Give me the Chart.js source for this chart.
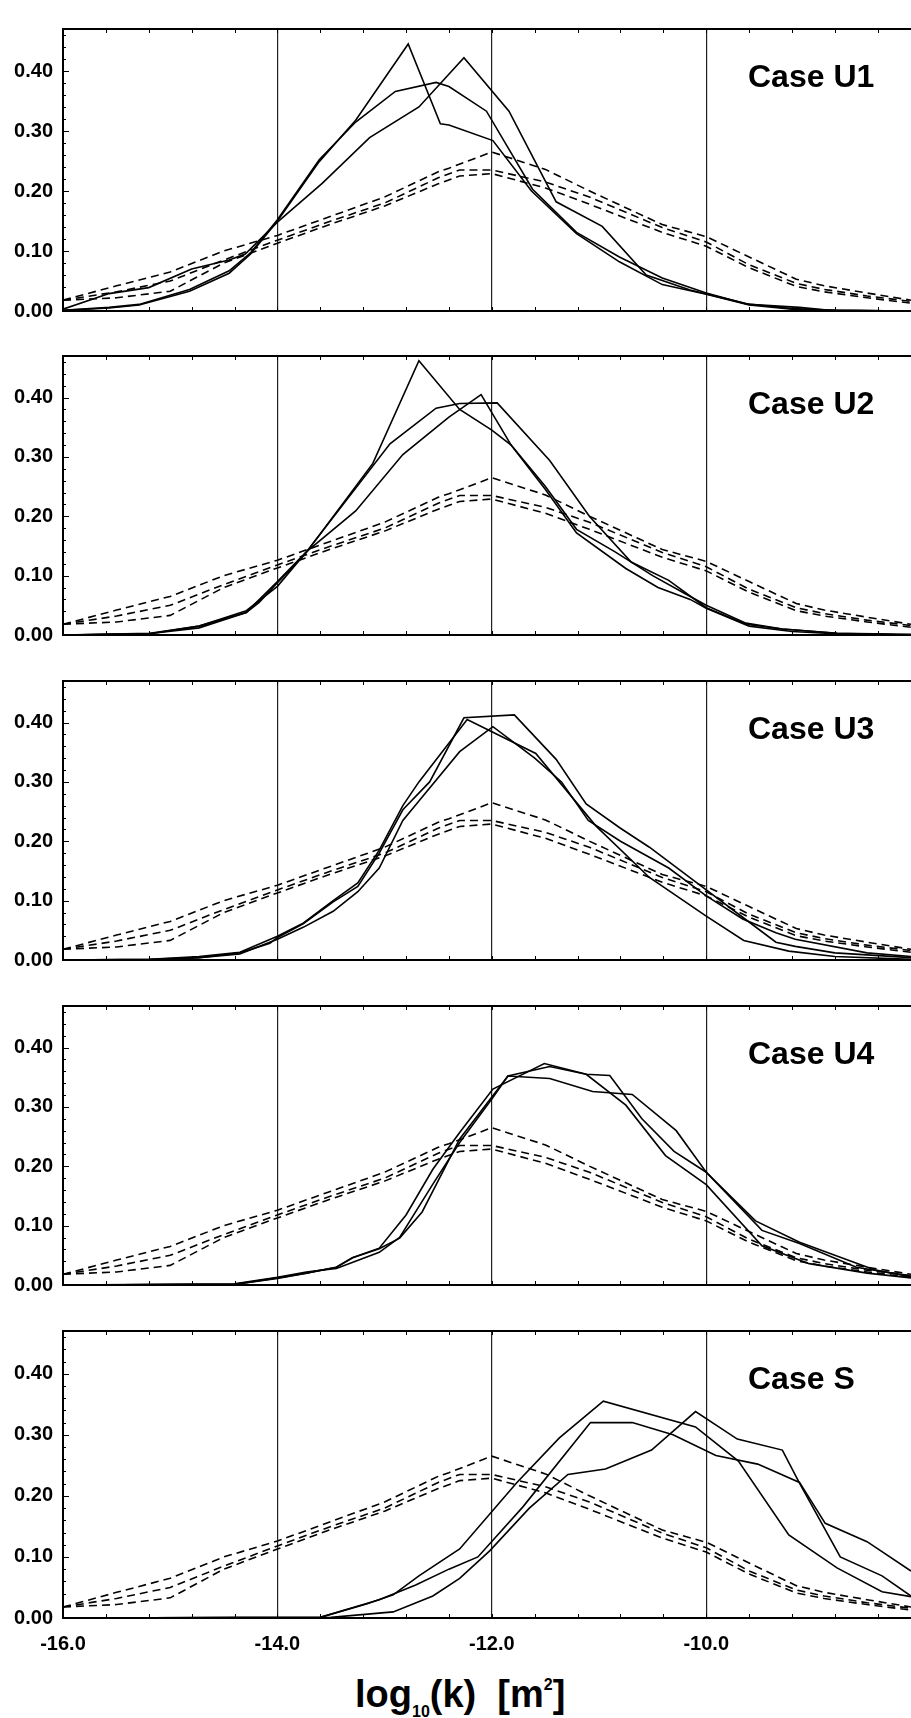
<!DOCTYPE html>
<html>
<head>
<meta charset="utf-8">
<title>Permeability distributions</title>
<script src="https://cdn.jsdelivr.net/npm/chart.js@4.4.1/dist/chart.umd.min.js"></script>
<style>
  html, body { margin: 0; padding: 0; background: #fff; }
  #page { position: relative; width: 911px; height: 1718px; overflow: hidden; background: #fff; }
  #page canvas { position: absolute; left: 0; }
  #xtitle {
    position: absolute; left: 355px; top: 1675px;
    font: bold 38px "Liberation Sans", Arial, Helvetica, sans-serif;
    line-height: 38px; color: #000; white-space: pre;
  }
  #xtitle .sub { font-size: 16px; line-height: 1; position: relative; top: 10px; }
  #xtitle .sup { font-size: 16px; line-height: 1; position: relative; top: -17px; }
</style>
</head>
<body>
<div id="page">
  <div id="xtitle">log<span class="sub">10</span>(k)  [m<span class="sup">2</span>]</div>
</div>
<script>
// ---- axes ----
const xMin = -16, xMax = -8.09, yMax = 0.47;
const xTickValues = [-16, -14, -12, -10];
const yTickValues = [0.0, 0.1, 0.2, 0.3, 0.4];
const caseLabels = ['Case U1', 'Case U2', 'Case U3', 'Case U4', 'Case S'];

// ---- reference (prior) distributions, dashed, common to every case ----
const priorA = [[-16,0.018],[-15.5,0.042],[-15,0.065],[-14.5,0.1],[-14,0.126],[-13.5,0.158],[-13,0.19],[-12.5,0.232],[-12.4,0.238],[-12,0.265],[-11.5,0.236],[-11.1,0.201],[-10.41,0.144],[-10,0.124],[-9.6,0.09],[-9.16,0.053],[-8.9,0.042],[-8.5,0.03],[-8.09,0.018]];
const priorB = [[-16,0.018],[-15.5,0.032],[-15,0.05],[-14.5,0.085],[-14,0.118],[-13.5,0.15],[-13,0.18],[-12.5,0.222],[-12.3,0.235],[-12,0.235],[-11.5,0.215],[-11.09,0.19],[-10.41,0.139],[-10,0.115],[-9.6,0.077],[-9.16,0.046],[-8.9,0.036],[-8.5,0.025],[-8.09,0.016]];
const priorC = [[-16,0.018],[-15.5,0.022],[-15,0.033],[-14.5,0.08],[-14,0.113],[-13.5,0.145],[-13,0.175],[-12.5,0.212],[-12.3,0.225],[-12,0.229],[-11.5,0.205],[-11.09,0.178],[-10.41,0.131],[-10,0.108],[-9.6,0.072],[-9.16,0.041],[-8.9,0.032],[-8.5,0.022],[-8.09,0.013]];

// ---- Case U1 ----
const u1a = [[-16,0.001],[-15.57,0.005],[-15.29,0.01],[-14.82,0.033],[-14.45,0.063],[-14.25,0.095],[-14,0.15],[-13.61,0.249],[-13.27,0.318],[-12.78,0.445],[-12.48,0.312],[-12.4,0.31],[-11.99,0.284],[-11.63,0.2],[-11.21,0.129],[-10.81,0.082],[-10.41,0.044],[-10,0.028],[-9.6,0.01],[-9.2,0.003],[-8.8,0.001],[-8.09,0]];
const u1b = [[-16,0.001],[-15.57,0.006],[-15.29,0.011],[-14.82,0.036],[-14.45,0.067],[-14.25,0.097],[-14,0.152],[-13.61,0.252],[-13.27,0.315],[-12.9,0.366],[-12.52,0.381],[-12.4,0.374],[-12.05,0.333],[-11.62,0.203],[-11.21,0.131],[-10.81,0.09],[-10.41,0.055],[-10,0.03],[-9.63,0.012],[-9.2,0.004],[-8.8,0.001],[-8.09,0]];
const u1c = [[-16,0.003],[-15.57,0.029],[-15.2,0.039],[-14.8,0.07],[-14.45,0.085],[-14.3,0.095],[-14,0.148],[-13.58,0.213],[-13.14,0.289],[-12.68,0.34],[-12.26,0.422],[-11.84,0.333],[-11.4,0.182],[-10.97,0.141],[-10.56,0.06],[-10.15,0.035],[-9.6,0.011],[-9.13,0.006],[-8.85,0.001],[-8.09,0]];

// ---- Case U2 ----
const u2a = [[-16,0],[-15.2,0.002],[-14.73,0.012],[-14.29,0.038],[-14.17,0.055],[-14,0.088],[-13.73,0.139],[-13.11,0.289],[-12.68,0.462],[-12.3,0.38],[-12,0.345],[-11.82,0.32],[-11.5,0.25],[-11.21,0.178],[-10.85,0.14],[-10.5,0.1],[-10.2,0.07],[-10,0.05],[-9.63,0.02],[-9.29,0.01],[-8.78,0.003],[-8.09,0.001]];
const u2b = [[-16,0],[-15.19,0.002],[-14.73,0.015],[-14.29,0.041],[-14,0.082],[-13.73,0.14],[-13.27,0.209],[-12.83,0.304],[-12.4,0.367],[-12.1,0.405],[-11.82,0.32],[-11.5,0.245],[-11.21,0.172],[-10.75,0.112],[-10.45,0.08],[-10.15,0.06],[-10,0.045],[-9.6,0.015],[-9.2,0.006],[-8.8,0.002],[-8.09,0]];
const u2c = [[-16,0],[-15.19,0.003],[-14.73,0.015],[-14.29,0.038],[-14,0.09],[-13.73,0.14],[-12.95,0.322],[-12.52,0.382],[-12.3,0.39],[-11.95,0.391],[-11.46,0.294],[-11.09,0.2],[-10.7,0.123],[-10.35,0.092],[-10,0.046],[-9.63,0.018],[-9.29,0.01],[-8.78,0.003],[-8.09,0]];

// ---- Case U3 ----
const u3a = [[-16,0],[-15.19,0.001],[-14.73,0.004],[-14.35,0.012],[-14.07,0.028],[-14,0.038],[-13.76,0.061],[-13.48,0.098],[-13.25,0.124],[-13.05,0.18],[-12.83,0.253],[-12.58,0.3],[-12.26,0.408],[-11.79,0.413],[-11.4,0.338],[-11.12,0.263],[-10.8,0.222],[-10.53,0.19],[-10,0.118],[-9.66,0.072],[-9.35,0.03],[-9.17,0.023],[-8.8,0.012],[-8.09,0.004]];
const u3b = [[-16,0],[-15.19,0.001],[-14.73,0.006],[-14.35,0.013],[-14,0.04],[-13.76,0.062],[-13.48,0.1],[-13.25,0.13],[-13.05,0.185],[-12.83,0.26],[-12.68,0.3],[-12.23,0.405],[-11.59,0.348],[-11.2,0.263],[-11.03,0.226],[-10.53,0.139],[-10,0.074],[-9.65,0.033],[-9.23,0.015],[-8.8,0.006],[-8.09,0.001]];
const u3c = [[-16,0],[-15.19,0],[-14.73,0.004],[-14.35,0.01],[-14,0.035],[-13.76,0.055],[-13.48,0.082],[-13.25,0.115],[-13.05,0.155],[-12.83,0.235],[-12.68,0.268],[-12.3,0.351],[-11.99,0.393],[-11.6,0.34],[-11.35,0.3],[-11.1,0.235],[-10.8,0.2],[-10.35,0.155],[-10,0.108],[-9.66,0.069],[-9.35,0.046],[-9.17,0.035],[-8.5,0.012],[-8.09,0.006]];

// ---- Case U4 ----
const u4a = [[-16,0],[-14.4,0.001],[-14,0.012],[-13.73,0.02],[-13.45,0.03],[-13.3,0.046],[-13.05,0.062],[-12.8,0.118],[-12.55,0.195],[-12.3,0.257],[-11.99,0.33],[-11.51,0.373],[-11.12,0.355],[-10.75,0.303],[-10.38,0.218],[-10,0.169],[-9.48,0.066],[-9.04,0.036],[-8.5,0.02],[-8.09,0.012]];
const u4b = [[-16,0],[-14.4,0.001],[-14,0.011],[-13.73,0.02],[-13.45,0.03],[-13.3,0.046],[-13.05,0.061],[-12.86,0.079],[-12.65,0.123],[-12.3,0.246],[-11.85,0.352],[-11.46,0.348],[-11.06,0.326],[-10.69,0.321],[-10.28,0.26],[-10,0.19],[-9.54,0.108],[-9.13,0.072],[-8.42,0.025],[-8.09,0.014]];
const u4c = [[-16,0],[-14.4,0.002],[-14,0.013],[-13.73,0.022],[-13.45,0.028],[-13.05,0.055],[-12.86,0.08],[-12.55,0.17],[-12.3,0.24],[-11.99,0.316],[-11.85,0.352],[-11.46,0.368],[-11.12,0.355],[-10.9,0.353],[-10.6,0.28],[-10.3,0.225],[-10,0.19],[-9.48,0.092],[-9.13,0.07],[-8.6,0.03],[-8.09,0.015]];

// ---- Case S ----
const sA = [[-16,0],[-13.6,0.001],[-13.17,0.023],[-12.92,0.038],[-12.68,0.069],[-12.3,0.113],[-11.77,0.221],[-11.37,0.295],[-10.96,0.355],[-10.1,0.313],[-9.7,0.257],[-9.23,0.136],[-8.78,0.082],[-8.36,0.043],[-8.09,0.035]];
const sB = [[-16,0],[-13.6,0.001],[-13.05,0.03],[-12.71,0.054],[-12.4,0.08],[-12.13,0.1],[-11.71,0.182],[-11.08,0.32],[-10.69,0.32],[-10.31,0.3],[-9.91,0.266],[-9.52,0.252],[-9.13,0.222],[-8.89,0.155],[-8.5,0.125],[-8.09,0.077]];
const sC = [[-16,0],[-13.5,0.001],[-12.92,0.01],[-12.55,0.036],[-12.3,0.065],[-12.02,0.11],[-11.65,0.18],[-11.29,0.235],[-10.94,0.244],[-10.51,0.275],[-10.1,0.338],[-9.71,0.293],[-9.29,0.275],[-9.13,0.221],[-8.75,0.1],[-8.36,0.069],[-8.09,0.036]];

const priors = [priorA, priorB, priorC];
const caseSeries = [[u1a, u1b, u1c], [u2a, u2b, u2c], [u3a, u3b, u3c], [u4a, u4b, u4c], [sA, sB, sC]];

// ---- layout of the stacked panels (plot-area top / bottom, px) ----
const plotTops = [13, 340, 665, 990, 1315];
const plotBottoms = [319, 643, 968, 1293, 1618];
const FONT = '"Liberation Sans", Arial, Helvetica, sans-serif';

const toPoints = s => s.map(([x, y]) => ({ x, y }));

// frame: top border, small inward tick marks, and the case label
const framePlugin = {
  id: 'frame',
  afterDraw(chart, args, opts) {
    const { ctx, chartArea: a, scales: { x, y } } = chart;
    ctx.save();
    ctx.strokeStyle = '#000';
    ctx.lineWidth = 2;
    ctx.beginPath();
    ctx.moveTo(a.left - 1, a.top);
    ctx.lineTo(a.right, a.top);
    ctx.stroke();

    ctx.lineWidth = 1;
    ctx.beginPath();
    for (let k = 0; k <= 20; k++) {
      const v = xMin + 0.4 * k;
      if (v > xMax) break;
      const px = Math.round(x.getPixelForValue(v)) + 0.5;
      ctx.moveTo(px, a.top); ctx.lineTo(px, a.top + 4);
      ctx.moveTo(px, a.bottom); ctx.lineTo(px, a.bottom - 4);
    }
    for (let k = 0; k <= 23; k++) {
      const v = 0.02 * k;
      const py = Math.round(y.getPixelForValue(v)) + 0.5;
      const len = (k % 5 === 0) ? 6 : 3;
      ctx.moveTo(a.left, py); ctx.lineTo(a.left + len, py);
    }
    ctx.stroke();

    ctx.fillStyle = '#000';
    ctx.font = 'bold 32px ' + FONT;
    ctx.textBaseline = 'alphabetic';
    ctx.textAlign = 'left';
    ctx.fillText(opts.text, a.left + 685, a.top + 58);
    ctx.restore();
  }
};

const page = document.getElementById('page');

caseLabels.forEach((label, i) => {
  const last = i === caseLabels.length - 1;
  const padTop = 6;
  const axisH = last ? 46 : 14;
  const plotH = plotBottoms[i] - plotTops[i];

  const canvas = document.createElement('canvas');
  canvas.width = 911;
  canvas.height = padTop + plotH + axisH;
  canvas.style.top = (plotTops[i] - padTop) + 'px';
  canvas.style.width = '911px';
  canvas.style.height = canvas.height + 'px';
  page.appendChild(canvas);

  const datasets = [];
  priors.forEach(s => datasets.push({
    data: toPoints(s), borderColor: '#000', borderWidth: 1.6,
    borderDash: [8, 5], pointRadius: 0, fill: false, tension: 0
  }));
  caseSeries[i].forEach(s => datasets.push({
    data: toPoints(s), borderColor: '#000', borderWidth: 1.6,
    pointRadius: 0, fill: false, tension: 0
  }));

  new Chart(canvas, {
    type: 'line',
    data: { datasets },
    options: {
      responsive: false,
      animation: false,
      devicePixelRatio: 1,
      layout: { padding: { top: padTop, left: 0, right: 0, bottom: 0 } },
      plugins: {
        legend: { display: false },
        tooltip: { enabled: false },
        frame: { text: label }
      },
      scales: {
        x: {
          type: 'linear', min: xMin, max: xMax,
          afterBuildTicks: s => { s.ticks = xTickValues.map(v => ({ value: v })); },
          afterFit: s => { s.height = axisH; },
          grid: {
            drawTicks: false, lineWidth: 1.2,
            color: c => (c.tick && c.tick.value === xMin) ? 'rgba(0,0,0,0)' : '#222'
          },
          border: { display: true, color: '#000', width: 2 },
          ticks: {
            display: last, padding: 14, maxRotation: 0, autoSkip: false,
            color: '#000', font: { family: FONT, size: 20, weight: 'bold' },
            callback: v => Number(v).toFixed(1)
          }
        },
        y: {
          type: 'linear', min: 0, max: yMax,
          afterBuildTicks: s => { s.ticks = yTickValues.map(v => ({ value: v })); },
          afterFit: s => { s.width = 63; },
          grid: { display: false, drawTicks: false },
          border: { display: true, color: '#000', width: 2 },
          ticks: {
            padding: 10, autoSkip: false,
            color: '#000', font: { family: FONT, size: 20, weight: 'bold' },
            callback: v => Number(v).toFixed(2)
          }
        }
      }
    },
    plugins: [framePlugin]
  });
});
</script>
</body>
</html>
